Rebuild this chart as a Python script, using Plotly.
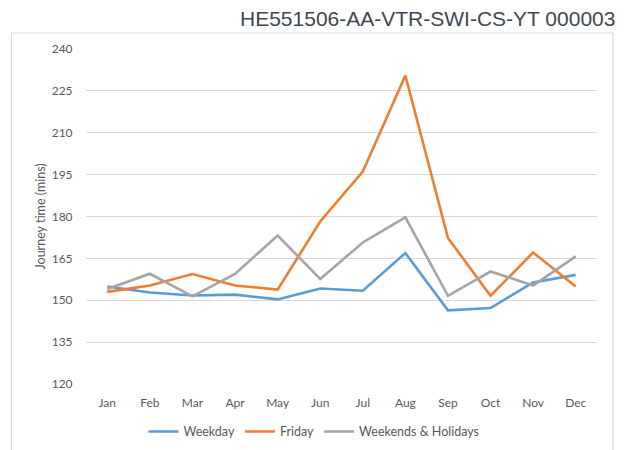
import plotly.graph_objects as go

months = ["Jan", "Feb", "Mar", "Apr", "May", "Jun", "Jul", "Aug", "Sep", "Oct", "Nov", "Dec"]
weekday = [154.9, 152.8, 151.7, 152.0, 150.3, 154.2, 153.4, 166.9, 146.4, 147.2, 156.4, 159.1]
friday = [153.0, 155.3, 159.4, 155.3, 153.8, 178.2, 196.1, 230.5, 172.3, 151.6, 167.1, 154.9]
weekends = [154.0, 159.5, 151.4, 159.4, 173.2, 157.6, 170.7, 179.7, 151.6, 160.3, 155.3, 165.7]
y_ticks = [120, 135, 150, 165, 180, 195, 210, 225, 240]
title_text = "HE551506-AA-VTR-SWI-CS-YT 000003"
y_title = "Journey time (mins)"

series = [
    ("Weekday", weekday, "#5B9BD5"),
    ("Friday", friday, "#ED7D31"),
    ("Weekends & Holidays", weekends, "#A5A5A5"),
]

fig = go.Figure()
for name, vals, color in series:
    fig.add_trace(go.Scatter(x=months, y=vals, name=name, mode="lines",
                             line=dict(color=color, width=2.6)))

tick_font = dict(family="Lato, Open Sans, sans-serif", size=12, color="#595959")

fig.update_layout(
    width=621, height=442,
    margin=dict(l=78, r=32, t=41, b=66, autoexpand=False),
    paper_bgcolor="white", plot_bgcolor="white",
    showlegend=True,
    legend=dict(orientation="h", x=0.446, xanchor="center", y=-0.143, yanchor="middle",
                font=dict(family="Lato, Open Sans, sans-serif", size=12.5, color="#595959"),
                itemwidth=30, tracegroupgap=0, bgcolor="rgba(0,0,0,0)"),
    xaxis=dict(type="category", range=[-0.5, len(months) - 0.5], showgrid=False,
               zeroline=False, showline=False,
               ticks="outside", ticklen=8, tickcolor="rgba(0,0,0,0)", tickfont=tick_font),
    yaxis=dict(range=[120, 240], tickvals=y_ticks, showgrid=True, gridcolor="#D9D9D9",
               gridwidth=1, zeroline=False, showline=False,
               ticks="outside", ticklen=10, tickcolor="rgba(0,0,0,0)", tickfont=tick_font),
    shapes=[dict(type="rect", xref="paper", yref="paper", x0=-0.1458, x1=1.0313,
                 y0=-0.35, y1=1.0478, line=dict(color="#D9D9D9", width=1.2),
                 fillcolor="rgba(0,0,0,0)", layer="below")],
    annotations=[
        dict(text=title_text, xref="paper", yref="paper", x=1.039, y=1.0925,
             xanchor="right", yanchor="middle", showarrow=False,
             font=dict(family="Liberation Sans, Arial, sans-serif", size=21, color="#3F4753")),
        dict(text=y_title, xref="paper", yref="paper", x=-0.09, y=0.5, textangle=-90,
             xanchor="center", yanchor="middle", showarrow=False,
             font=dict(family="Lato, Open Sans, sans-serif", size=12.5, color="#595959")),
    ],
)

fig.write_html("out.html")
